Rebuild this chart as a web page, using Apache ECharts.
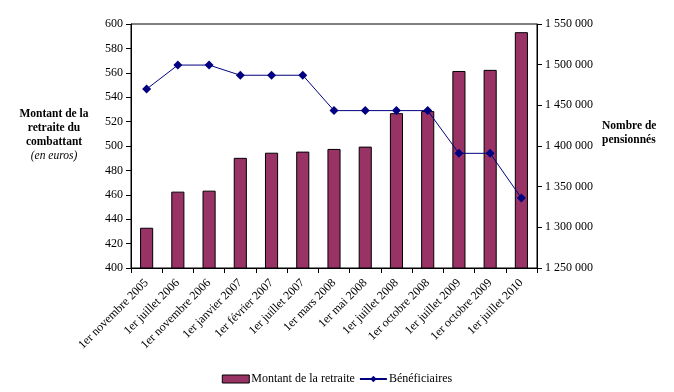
<!DOCTYPE html>
<html><head><meta charset="utf-8">
<script src="https://cdn.jsdelivr.net/npm/echarts@6/dist/echarts.min.js"></script>
<style>html,body{margin:0;padding:0;background:#fff}#c{width:674px;height:392px}</style>
</head><body><div id="c"></div>
<script>
const categories = ["1er novembre 2005","1er juillet 2006","1er novembre 2006","1er janvier 2007","1er février 2007","1er juillet 2007","1er mars 2008","1er mai 2008","1er juillet 2008","1er octobre 2008","1er juillet 2009","1er octobre 2009","1er juillet 2010"];
const montant = [433, 462.6, 463.4, 490.3, 494.5, 495.4, 497.6, 499.5, 526.9, 528.6, 561.5, 562.4, 593.3];
const beneficiaires = [1470000, 1499500, 1499500, 1487000, 1487000, 1487000, 1443500, 1443500, 1443500, 1443500, 1391000, 1391000, 1336000];
const leftTicks = [400, 420, 440, 460, 480, 500, 520, 540, 560, 580, 600];
const rightTicks = [1250000, 1300000, 1350000, 1400000, 1450000, 1500000, 1550000];

const font = "'Liberation Serif', 'Times New Roman', serif";
const chart = echarts.init(document.getElementById('c'));
function fmtSpace(v){ return String(v).replace(/\B(?=(\d{3})+(?!\d))/g, ' '); }
chart.setOption({
  animation: false,
  textStyle: { fontFamily: font, color: '#000' },
  grid: { left: 131, right: 137, top: 24, bottom: 124, show: true, borderColor: '#000', borderWidth: 1, backgroundColor: 'transparent' },
  legend: {
    bottom: 2, left: 'center', itemGap: 4, itemWidth: 27, itemHeight: 8,
    textStyle: { fontFamily: font, fontSize: 12, color: '#000', padding: [0, 0, 0, -3] },
    data: [
      { name: 'Montant de la retraite', icon: 'rect', itemStyle: { color: '#993366', borderColor: '#000', borderWidth: 1 } },
      { name: 'Bénéficiaires' }
    ]
  },
  xAxis: {
    type: 'category', data: categories, boundaryGap: true,
    axisLine: { lineStyle: { color: '#000', width: 1 } },
    axisTick: { show: true, inside: false, length: 5, lineStyle: { color: '#000' } },
    axisLabel: { rotate: 45, interval: 0, fontFamily: font, fontSize: 12, color: '#000', margin: 13 },
    splitLine: { show: false }
  },
  yAxis: [
    { type: 'value', min: 400, max: 600, interval: 20, position: 'left',
      axisLine: { show: true, lineStyle: { color: '#000' } },
      axisTick: { show: true, length: 5, lineStyle: { color: '#000' } },
      axisLabel: { fontFamily: font, fontSize: 12, color: '#000', margin: 8,
        formatter: v => leftTicks.includes(v) ? String(v) : '' },
      splitLine: { show: false } },
    { type: 'value', min: 1250000, max: 1550000, interval: 50000, position: 'right',
      axisLine: { show: true, lineStyle: { color: '#000' } },
      axisTick: { show: true, length: 5, lineStyle: { color: '#000' } },
      axisLabel: { fontFamily: font, fontSize: 12, color: '#000', margin: 8,
        formatter: v => rightTicks.includes(v) ? fmtSpace(v) : '' },
      splitLine: { show: false } }
  ],
  series: [
    { name: 'Montant de la retraite', type: 'bar', yAxisIndex: 0, data: montant, barWidth: '42%',
      itemStyle: { color: '#993366', borderColor: '#000', borderWidth: 1 } },
    { name: 'Bénéficiaires', type: 'line', yAxisIndex: 1, data: beneficiaires,
      symbol: 'diamond', symbolSize: 9,
      lineStyle: { color: '#000080', width: 1 },
      itemStyle: { color: '#000080' } }
  ],
  graphic: [
    { type: 'text', x: 54, y: 107, style: {
        text: '{b|Montant de la}\n{b|retraite du}\n{b|combattant}\n{i|(en euros)}',
        align: 'center', fill: '#000',
        rich: {
          b: { fontFamily: font, fontWeight: 'bold', fontSize: 11.5, lineHeight: 14, align: 'center' },
          i: { fontFamily: font, fontStyle: 'italic', fontSize: 11.5, lineHeight: 14, align: 'center' }
        } } },
    { type: 'text', x: 602, y: 119, style: { text: 'Nombre de\npensionnés', font: "bold 11.5px " + font, fill: '#000', align: 'left', lineHeight: 14 } }
  ]
});
</script></body></html>
